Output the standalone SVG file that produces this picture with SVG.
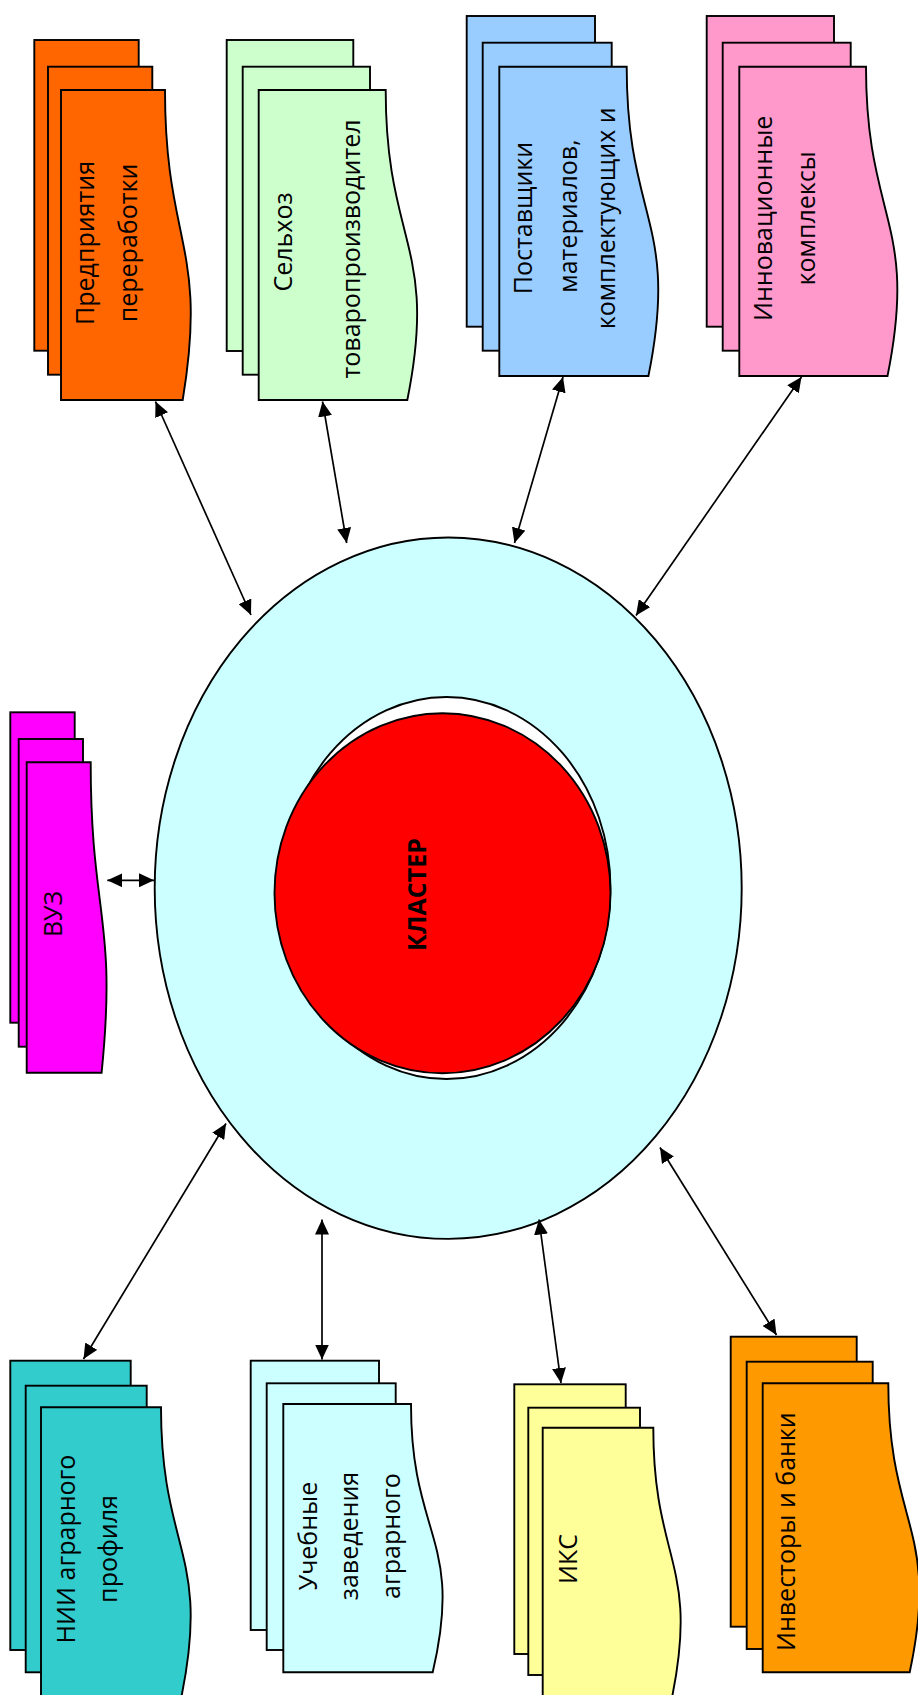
<svg xmlns="http://www.w3.org/2000/svg" width="918" height="1695" viewBox="0 0 918 1695">
<defs>
<style>
.s{stroke:#000;stroke-width:1.9}
.t{font-family:"Open Sans","Noto Sans","Liberation Sans",sans-serif;font-size:25px;fill:#000;text-anchor:middle}
.b{font-weight:bold}
.c{stroke:#000;stroke-width:1.7;fill:none;marker-start:url(#ah);marker-end:url(#ah)}
</style>
<marker id="ah" viewBox="0 0 15 14" refX="15" refY="7" markerWidth="15" markerHeight="14" markerUnits="userSpaceOnUse" orient="auto-start-reverse">
<path d="M0,0 L15,7 L0,14 Z" fill="#000"/>
</marker>
</defs>
<rect width="918" height="1695" fill="#fff"/>

<g id="cluster">
<ellipse class="s" cx="448.2" cy="888.2" rx="293.5" ry="350.7" fill="#CCFFFF"/>
<ellipse class="s" cx="446.5" cy="888" rx="164" ry="191" fill="#fff"/>
<ellipse class="s" cx="442.5" cy="893.2" rx="168" ry="180" fill="#FF0000"/>
<text class="t b" transform="translate(426,894.5) rotate(-90)">КЛАСТЕР</text>
</g>

<g id="n1" fill="#FF6600">
<rect class="s" x="34.3" y="40" width="104.4" height="310.7"/>
<rect class="s" x="48" y="66.7" width="104.3" height="308"/>
<path class="s" d="M61,90 H165 C165,245 208.3,245 182.7,400 H61 Z"/>
<text class="t" transform="translate(93.8,243) rotate(-90)">Предприятия</text>
<text class="t" transform="translate(136.5,243) rotate(-90)">переработки</text>
</g>

<g id="n2" fill="#CCFFCC">
<rect class="s" x="226.7" y="40" width="126.6" height="311"/>
<rect class="s" x="242.7" y="66.7" width="127.3" height="308"/>
<path class="s" d="M258.7,90 H385.7 C385.7,245 438.5,245 407.3,400 H258.7 Z"/>
<text class="t" transform="translate(291.5,242) rotate(-90)">Сельхоз</text>
<text class="t" transform="translate(359.8,249) rotate(-90)">товаропроизводител</text>
</g>

<g id="n3" fill="#99CCFF">
<rect class="s" x="466.7" y="16" width="128.3" height="310.7"/>
<rect class="s" x="482.7" y="42.7" width="129" height="308"/>
<path class="s" d="M499.3,66.7 H626.7 C626.7,221.35 679.7,221.35 648.4,376 H499.3 Z"/>
<text class="t" transform="translate(531.5,218) rotate(-90)">Поставщики</text>
<text class="t" transform="translate(576.5,216) rotate(-90)">материалов,</text>
<text class="t" transform="translate(614.8,218.3) rotate(-90)">комплектующих и</text>
</g>

<g id="n4" fill="#FF99CC">
<rect class="s" x="706.7" y="16" width="127.3" height="310.7"/>
<rect class="s" x="722.7" y="42.7" width="128" height="308"/>
<path class="s" d="M739.3,66.7 H866 C866,221.35 918.7,221.35 887.5,376 H739.3 Z"/>
<text class="t" transform="translate(771.5,218.3) rotate(-90)">Инновационные</text>
<text class="t" transform="translate(814.8,218.3) rotate(-90)">комплексы</text>
</g>

<g id="n5" fill="#FF00FF">
<rect class="s" x="10.3" y="712.3" width="64.4" height="310.4"/>
<rect class="s" x="18.7" y="739" width="64.3" height="307.7"/>
<path class="s" d="M26.7,762.3 H90.7 C90.7,917.5 117.3,917.5 101.6,1072.7 H26.7 Z"/>
<text class="t" transform="translate(61.9,914) rotate(-90)">ВУЗ</text>
</g>

<g id="n6" fill="#33CCCC">
<rect class="s" x="10.3" y="1360.7" width="120.4" height="289.3"/>
<rect class="s" x="25.7" y="1385.7" width="121" height="286.6"/>
<path class="s" d="M41,1407.3 H161 C161,1552 210.9,1552 181.4,1697 H41 Z"/>
<text class="t" transform="translate(74.8,1549) rotate(-90)">НИИ аграрного</text>
<text class="t" transform="translate(116.5,1549) rotate(-90)">профиля</text>
</g>

<g id="n7" fill="#CCFFFF">
<rect class="s" x="250.7" y="1360.7" width="128.3" height="269.3"/>
<rect class="s" x="266.7" y="1383.3" width="129" height="266.7"/>
<path class="s" d="M283.3,1404 H411 C411,1538.15 464.1,1538.15 432.7,1672.3 H283.3 Z"/>
<text class="t" transform="translate(316.5,1536) rotate(-90)">Учебные</text>
<text class="t" transform="translate(358.2,1536) rotate(-90)">заведения</text>
<text class="t" transform="translate(399.8,1536) rotate(-90)">аграрного</text>
</g>

<g id="n8" fill="#FFFF99">
<rect class="s" x="514.3" y="1384.3" width="111.4" height="269.7"/>
<rect class="s" x="528.3" y="1407.7" width="111.7" height="267.3"/>
<path class="s" d="M542.7,1427.7 H653.3 C653.3,1562.35 699.3,1562.35 672.1,1697 H542.7 Z"/>
<text class="t" transform="translate(576.9,1559) rotate(-90)">ИКС</text>
</g>

<g id="n9" fill="#FF9900">
<rect class="s" x="730.7" y="1336.7" width="126" height="290"/>
<rect class="s" x="746.7" y="1361.7" width="126" height="287.3"/>
<path class="s" d="M762.7,1383.3 H888.3 C888.3,1527.8 940.6,1527.8 909.7,1672.3 H762.7 Z"/>
<text class="t" transform="translate(794.8,1531.7) rotate(-90)">Инвесторы и банки</text>
</g>

<g id="connectors">
<line class="c" x1="155.5" y1="401.5" x2="251" y2="615"/>
<line class="c" x1="322.5" y1="401.5" x2="346.7" y2="543"/>
<line class="c" x1="563" y1="377" x2="514.5" y2="543"/>
<line class="c" x1="801.5" y1="377" x2="636" y2="615.5"/>
<line class="c" x1="107.3" y1="880.3" x2="154" y2="880.3"/>
<line class="c" x1="226" y1="1123.5" x2="83.5" y2="1359"/>
<line class="c" x1="322" y1="1219.5" x2="322" y2="1359.5"/>
<line class="c" x1="539" y1="1219.5" x2="561" y2="1383"/>
<line class="c" x1="660" y1="1147.5" x2="776.5" y2="1335"/>
</g>
</svg>
